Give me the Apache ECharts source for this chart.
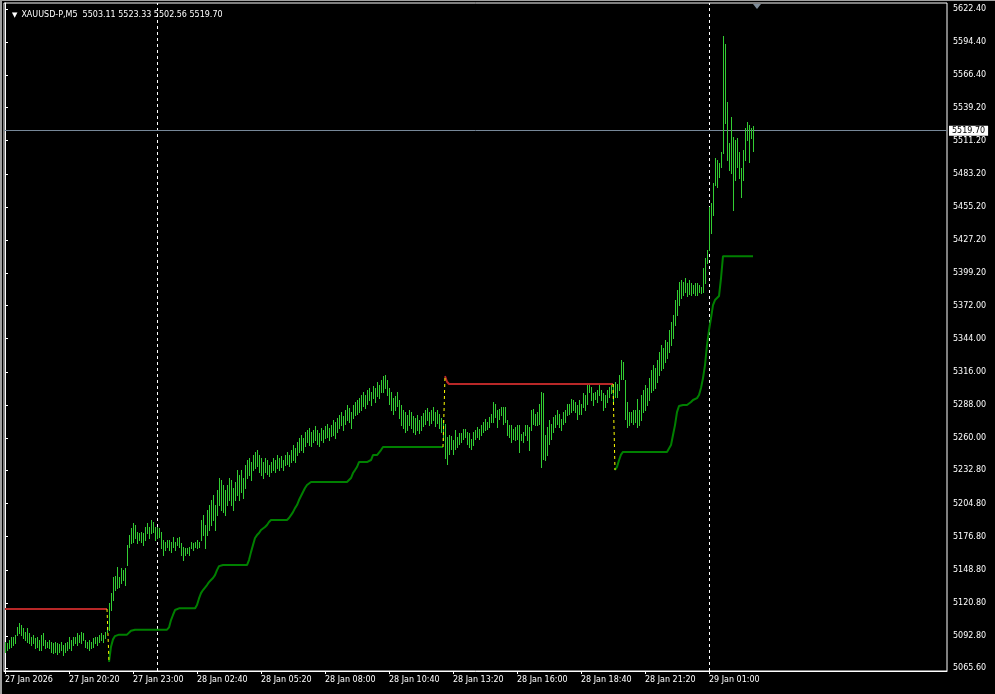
<!DOCTYPE html>
<html>
<head>
<meta charset="utf-8">
<script src="https://cdn.jsdelivr.net/npm/echarts@6/dist/echarts.min.js"></script>
<style>
html,body{margin:0;padding:0;background:#000;}
#c{width:995px;height:694px;}
</style>
</head>
<body>
<div id="c"></div>
<script>
// ---------- DATA ----------
const symbolTitle = 'XAUUSD-P,M5';
const lastOHLC = ['5503.11', '5523.33', '5502.56', '5519.70'];
const lastPrice = 5519.70;

// x tick labels, one every 32 bars (M5)
const xLabels = ['27 Jan 2026','27 Jan 20:20','27 Jan 23:00','28 Jan 02:40','28 Jan 05:20','28 Jan 08:00',
                 '28 Jan 10:40','28 Jan 13:20','28 Jan 16:00','28 Jan 18:40','28 Jan 21:20','29 Jan 01:00'];
const xLabelBars = [0,32,64,96,128,160,192,224,256,288,320,352];
const daySeparatorBars = [76, 352];

const yTicks = [5065.6,5092.8,5120.8,5148.8,5176.8,5204.8,5232.8,5260.0,5288.0,5316.0,5344.0,
                5372.0,5399.2,5427.2,5455.2,5483.2,5511.2,5539.2,5566.4,5594.4,5622.4];
const yMin = 5063.3, yMax = 5627.5;
const totalSlots = 471;

// bar highs
const highs = [
5088.0,5086.6,5089.4,5092.3,5092.3,5093.7,5100.7,5103.5,5102.1,5099.3,
5096.5,5099.3,5095.1,5092.3,5093.7,5090.8,5092.3,5089.4,5093.7,5095.1,
5089.4,5088.0,5089.4,5088.0,5086.6,5088.0,5086.6,5086.1,5088.0,5085.2,
5086.6,5088.0,5092.3,5089.4,5092.3,5092.3,5095.1,5093.7,5096.5,5095.1,
5089.4,5088.0,5089.4,5088.0,5090.8,5092.3,5092.3,5093.7,5095.1,5093.7,
5096.5,5100.7,5120.4,5128.9,5142.9,5143.5,5151.4,5142.9,5150.0,5148.6,
5150.0,5169.7,5178.1,5183.8,5188.0,5186.6,5180.9,5179.5,5180.9,5179.5,
5185.2,5188.0,5185.2,5190.8,5189.4,5185.2,5185.2,5183.8,5180.9,5173.9,
5172.5,5173.9,5173.9,5172.5,5176.7,5172.5,5175.3,5176.7,5171.1,5168.3,
5166.9,5166.9,5168.3,5172.5,5171.1,5172.5,5173.9,5172.5,5190.8,5195.0,
5186.6,5199.2,5203.5,5207.7,5211.9,5203.5,5216.1,5226.3,5224.6,5220.4,
5216.1,5220.4,5226.3,5224.6,5217.8,5222.9,5233.0,5228.8,5233.0,5226.3,
5237.3,5241.5,5243.2,5239.8,5245.7,5248.2,5249.9,5245.7,5243.2,5239.8,
5243.2,5241.5,5237.3,5239.8,5243.2,5241.5,5245.7,5243.2,5244.9,5241.5,
5245.7,5248.2,5245.7,5249.9,5254.1,5251.6,5256.7,5260.1,5262.6,5260.1,
5265.1,5266.8,5268.5,5265.1,5266.8,5270.2,5266.8,5264.3,5268.5,5266.8,
5270.2,5271.9,5268.5,5271.0,5275.3,5273.6,5276.9,5279.5,5282.0,5278.6,
5283.7,5287.9,5285.4,5282.0,5287.9,5290.5,5292.2,5293.8,5296.4,5298.9,
5296.4,5300.6,5302.3,5298.9,5304.0,5302.3,5307.4,5304.8,5309.0,5312.4,
5313.3,5309.0,5302.3,5298.9,5293.8,5295.5,5298.9,5292.2,5287.9,5283.7,
5282.0,5279.5,5283.7,5282.0,5278.6,5276.9,5279.5,5275.3,5278.6,5281.1,
5283.7,5285.4,5282.0,5283.7,5286.2,5282.0,5283.7,5280.3,5276.9,5275.3,
5272.3,5261.0,5262.4,5261.6,5258.0,5266.6,5261.0,5264.0,5264.0,5268.0,
5268.0,5265.0,5264.0,5259.6,5265.0,5266.6,5269.5,5268.0,5270.9,5273.7,
5276.5,5273.7,5277.9,5280.7,5290.6,5289.2,5283.5,5285.0,5286.4,5286.4,
5286.4,5275.0,5270.9,5270.9,5268.0,5269.5,5270.9,5270.9,5263.8,5265.2,
5270.9,5270.9,5269.5,5283.5,5285.0,5280.7,5282.1,5289.2,5299.0,5297.7,
5262.4,5269.5,5275.0,5272.3,5277.9,5279.3,5283.5,5280.7,5276.5,5282.1,
5283.5,5289.2,5289.2,5293.4,5292.0,5290.6,5287.8,5292.0,5289.2,5297.7,
5296.2,5306.1,5304.7,5303.3,5297.7,5299.0,5300.4,5304.7,5300.4,5297.7,
5296.2,5300.4,5303.3,5304.7,5306.1,5307.5,5306.1,5313.1,5325.8,5324.4,
5308.9,5290.6,5282.1,5282.1,5283.5,5283.5,5293.4,5283.5,5296.4,5300.6,
5304.8,5302.3,5310.7,5317.5,5321.7,5319.1,5325.9,5332.6,5338.6,5336.0,
5342.8,5341.1,5351.3,5358.0,5364.0,5376.6,5385.1,5391.8,5393.5,5391.8,
5395.2,5391.0,5393.5,5390.7,5389.2,5390.7,5390.7,5389.2,5387.8,5403.3,
5411.8,5418.8,5455.4,5458.2,5475.1,5496.2,5494.8,5492.0,5501.9,5599.6,
5592.8,5544.1,5508.9,5531.4,5514.6,5511.7,5513.1,5501.9,5487.8,5503.3,
5521.6,5527.2,5524.4,5521.6,5523.33
];
// bar lows
const lows = [
5079.6,5081.0,5082.4,5083.8,5085.2,5086.6,5093.7,5095.1,5093.7,5090.8,
5089.4,5088.0,5086.6,5085.2,5086.6,5082.4,5083.8,5081.0,5081.0,5085.2,
5082.4,5083.8,5082.4,5079.6,5078.2,5079.6,5077.6,5079.6,5081.0,5076.8,
5079.6,5081.0,5082.4,5081.0,5085.2,5086.6,5085.2,5088.0,5086.6,5089.4,
5083.8,5082.4,5081.0,5082.4,5083.8,5086.6,5085.2,5088.0,5089.4,5088.0,
5090.8,5095.9,5097.9,5114.8,5123.2,5131.7,5133.1,5134.5,5137.3,5140.1,
5135.9,5152.8,5168.3,5171.1,5172.5,5175.3,5171.1,5173.9,5172.5,5169.7,
5173.9,5179.5,5175.3,5179.5,5181.0,5173.9,5175.3,5176.7,5166.9,5161.2,
5165.5,5168.3,5165.5,5164.1,5168.3,5165.5,5169.7,5168.3,5161.2,5157.0,
5161.2,5162.6,5161.2,5166.9,5165.5,5168.3,5166.9,5168.3,5173.9,5178.1,
5167.2,5178.1,5182.4,5186.6,5190.8,5182.4,5195.0,5203.5,5199.2,5197.5,
5195.0,5203.5,5207.7,5203.5,5199.2,5207.7,5211.9,5207.7,5214.5,5209.4,
5217.8,5226.3,5228.8,5224.6,5233.0,5234.7,5236.4,5231.4,5228.8,5226.3,
5231.4,5229.7,5228.0,5231.4,5233.0,5231.4,5234.7,5233.0,5235.6,5233.0,
5237.3,5238.1,5236.4,5239.8,5241.5,5239.8,5245.7,5248.2,5249.9,5248.2,
5253.3,5256.7,5254.1,5253.3,5256.7,5258.4,5255.0,5253.3,5258.4,5256.7,
5260.1,5260.9,5258.4,5261.8,5262.6,5260.1,5265.1,5268.5,5271.0,5266.8,
5271.9,5275.3,5273.6,5268.5,5276.9,5279.5,5280.3,5282.0,5283.7,5287.1,
5285.4,5288.8,5292.2,5287.9,5293.8,5290.5,5295.5,5293.8,5298.9,5298.9,
5302.3,5296.4,5288.8,5283.7,5280.3,5283.7,5287.1,5277.0,5271.0,5268.5,
5265.1,5266.8,5271.0,5268.5,5265.1,5263.4,5266.8,5264.3,5266.8,5270.2,
5271.9,5275.3,5271.0,5272.7,5275.3,5270.2,5272.7,5268.5,5265.1,5258.4,
5243.0,5238.5,5247.0,5251.0,5247.0,5251.0,5252.6,5255.4,5256.8,5259.6,
5261.0,5255.0,5252.6,5251.0,5254.0,5259.6,5261.0,5259.6,5262.4,5265.2,
5266.6,5268.0,5269.5,5273.7,5273.7,5278.0,5269.5,5276.5,5279.3,5272.3,
5273.7,5262.4,5261.0,5256.8,5259.6,5258.2,5259.6,5248.3,5258.2,5256.8,
5262.4,5258.2,5249.7,5266.6,5272.3,5270.9,5270.9,5272.3,5235.7,5242.7,
5241.3,5245.5,5255.4,5259.6,5265.2,5269.5,5272.3,5269.5,5266.6,5272.3,
5273.7,5279.3,5280.7,5282.1,5283.5,5282.1,5276.5,5280.7,5280.7,5286.4,
5283.5,5289.2,5299.0,5292.0,5287.8,5293.4,5290.6,5296.2,5292.0,5283.5,
5286.4,5290.6,5294.8,5297.7,5289.2,5294.8,5294.8,5300.4,5310.3,5310.3,
5276.5,5269.5,5270.9,5273.7,5272.3,5273.7,5269.5,5270.9,5275.3,5282.0,
5283.7,5287.9,5292.2,5298.9,5300.6,5302.3,5307.4,5313.3,5317.5,5319.1,
5324.2,5327.6,5332.6,5338.6,5344.5,5355.5,5364.0,5372.4,5378.3,5380.8,
5383.4,5380.0,5381.7,5380.8,5382.2,5380.8,5380.8,5383.6,5382.8,5383.6,
5390.7,5407.6,5418.8,5432.9,5448.4,5473.7,5472.3,5480.8,5489.2,5500.5,
5525.8,5494.8,5486.4,5483.6,5452.6,5477.9,5489.2,5479.4,5463.9,5477.9,
5494.8,5511.7,5493.4,5513.1,5502.56
];

// trailing stop: sell (red) segments and buy (green) segments, each with its first bar index
const redStop1Start = 0;
const redStop1 = [
5115.7,5115.7,5115.7,5115.7,5115.7,5115.7,5115.7,5115.7,5115.7,5115.7,
5115.7,5115.7,5115.7,5115.7,5115.7,5115.7,5115.7,5115.7,5115.7,5115.7,
5115.7,5115.7,5115.7,5115.7,5115.7,5115.7,5115.7,5115.7,5115.7,5115.7,
5115.7,5115.7,5115.7,5115.7,5115.7,5115.7,5115.7,5115.7,5115.7,5115.7,
5115.7,5115.7,5115.7,5115.7,5115.7,5115.7,5115.7,5115.7,5115.7,5115.7,
5115.7,5115.7
];
const greenStop1Start = 52;
const greenStop1 = [
5071.1,5083.8,5090.0,5092.8,5094.0,5094.0,5094.0,5094.0,5094.0,5094.0,
5094.0,5097.3,5098.2,5098.2,5098.2,5098.2,5098.2,5098.2,5098.2,5098.2,
5098.2,5098.2,5098.2,5098.2,5098.2,5098.2,5098.2,5098.2,5098.2,5098.2,
5100.1,5106.3,5110.6,5114.8,5115.9,5116.2,5116.2,5116.2,5116.2,5116.2,
5116.2,5116.2,5116.2,5116.2,5119.0,5124.6,5129.1,5131.7,5133.3,5135.9,
5138.4,5140.1,5141.8,5144.3,5148.5,5151.9,5152.8,5152.8,5152.8,5152.8,
5152.8,5152.8,5152.8,5152.8,5152.8,5152.8,5152.8,5152.8,5152.8,5152.8,
5157.0,5163.7,5169.7,5175.6,5178.1,5179.8,5182.4,5184.0,5184.9,5186.6,
5189.1,5190.8,5190.8,5190.8,5190.8,5190.8,5190.8,5190.8,5190.8,5190.8,
5192.5,5195.0,5197.5,5200.9,5203.5,5207.7,5211.1,5214.5,5217.8,5220.4,
5221.2,5222.9,5222.9,5222.9,5222.9,5222.9,5222.9,5222.9,5222.9,5222.9,
5222.9,5222.9,5222.9,5222.9,5222.9,5222.9,5222.9,5222.9,5222.9,5222.9,
5222.9,5226.3,5230.5,5233.0,5235.6,5239.8,5239.8,5239.8,5239.8,5239.8,
5239.8,5241.5,5245.7,5245.7,5245.7,5245.7,5249.9,5252.5,5252.5,5252.5,
5252.5,5252.5,5252.5,5252.5,5252.5,5252.5,5252.5,5252.5,5252.5,5252.5,
5252.5,5252.5,5252.5,5252.5,5252.5,5252.5,5252.5,5252.5,5252.5,5252.5,
5252.5,5252.5,5252.5,5252.5,5252.5,5252.5,5252.5,5252.5
];
const redStop2Start = 220;
const redStop2 = [
5312.3,5307.6,5305.7,5305.7,5305.7,5305.7,5305.7,5305.7,5305.7,5305.7,
5305.7,5305.7,5305.7,5305.7,5305.7,5305.7,5305.7,5305.7,5305.7,5305.7,
5305.7,5305.7,5305.7,5305.7,5305.7,5305.7,5305.7,5305.7,5305.7,5305.7,
5305.7,5305.7,5305.7,5305.7,5305.7,5305.7,5305.7,5305.7,5305.7,5305.7,
5305.7,5305.7,5305.7,5305.7,5305.7,5305.7,5305.7,5305.7,5305.7,5305.7,
5305.7,5305.7,5305.7,5305.7,5305.7,5305.7,5305.7,5305.7,5305.7,5305.7,
5305.7,5305.7,5305.7,5305.7,5305.7,5305.7,5305.7,5305.7,5305.7,5305.7,
5305.7,5305.7,5305.7,5305.7,5305.7,5305.7,5305.7,5305.7,5305.7,5305.7,
5305.7,5305.7,5305.7,5305.7,5305.7
];
const greenStop2Start = 305;
const greenStop2 = [
5233.0,5235.7,5241.3,5246.0,5248.3,5248.3,5248.3,5248.3,5248.3,5248.3,
5248.3,5248.3,5248.3,5248.3,5248.3,5248.3,5248.3,5248.3,5248.3,5248.3,
5248.3,5248.3,5248.3,5248.3,5248.3,5248.3,5248.3,5248.3,5254.1,5262.6,
5271.0,5282.0,5287.1,5287.9,5287.9,5287.9,5287.9,5287.9,5290.5,5292.2,
5292.2,5293.8,5296.4,5302.3,5310.7,5321.7,5338.6,5351.3,5361.4,5372.4,
5376.6,5378.3,5380.0,5395.0,5413.7,5413.7,5413.7,5413.7,5413.7,5413.7,
5413.7,5413.7,5413.7,5413.7,5413.7,5413.7,5413.7,5413.7,5413.7,5413.7
];

// ---------- CHART ----------
const FONT = 'DejaVu Sans';
const chart = echarts.init(document.getElementById('c'));

const toPairs = (start, vals) => vals.map((v, k) => [start + k, v]);
const red1 = toPairs(redStop1Start, redStop1);
const green1 = toPairs(greenStop1Start, greenStop1);
const red2 = toPairs(redStop2Start, redStop2);
const green2 = toPairs(greenStop2Start, greenStop2);
const switches = [
  [red1[red1.length - 1], green1[0]],
  [green1[green1.length - 1], red2[0]],
  [red2[red2.length - 1], green2[0]]
];

const barData = highs.map((h, i) => [i, h, lows[i]]);

const RED = '#b82828', GREEN = '#008000';
const stopLine = (data, color, extra) => Object.assign({
  type: 'line', data, symbol: 'none', silent: true, z: 3,
  lineStyle: { color, width: 2 }
}, extra || {});

const option = {
  backgroundColor: '#000',
  animation: false,
  title: {
    left: 7, top: 6,
    text: '{t|▼}' + symbolTitle + '  ' + lastOHLC.join(' '),
    textStyle: {
      color: '#fff', fontFamily: FONT, fontSize: 8, fontWeight: 'normal',
      rich: { t: { fontSize: 7, color: '#fff', padding: [0, 4, 0, 0] } }
    }
  },
  graphic: [
    { type: 'rect', left: 0, top: 0, shape: { width: 2, height: 694 }, style: { fill: '#a0a0a0' }, silent: true },
    { type: 'rect', left: 0, top: 0, shape: { width: 995, height: 1 }, style: { fill: '#a0a0a0' }, silent: true }
  ],
  grid: { left: 4, top: 3, right: 48, bottom: 23, show: true, borderColor: '#fff', borderWidth: 1, backgroundColor: '#000' },
  xAxis: {
    type: 'value', min: -0.5, max: totalSlots,
    splitLine: { show: false },
    axisLine: { show: true, lineStyle: { color: '#fff', width: 1 } },
    axisTick: { show: true, customValues: xLabelBars, length: 3, lineStyle: { color: '#fff' } },
    axisLabel: {
      customValues: xLabelBars,
      formatter: v => xLabels[xLabelBars.indexOf(Math.round(v))] || '',
      color: '#fff', fontFamily: FONT, fontSize: 8, align: 'left', margin: 5
    }
  },
  yAxis: {
    type: 'value', position: 'right', min: yMin, max: yMax, scale: true,
    splitLine: { show: false },
    axisLine: { show: true, lineStyle: { color: '#fff', width: 1 } },
    axisTick: { show: true, customValues: yTicks, length: 3, lineStyle: { color: '#fff' } },
    axisLabel: {
      customValues: yTicks,
      formatter: v => Number(v).toFixed(2),
      color: '#fff', fontFamily: FONT, fontSize: 8, margin: 6
    }
  },
  series: [
    {
      type: 'custom', name: 'bars', clip: true, z: 2,
      data: barData,
      encode: { x: 0, y: [1, 2] },
      renderItem: (params, api) => {
        const i = api.value(0);
        const top = api.coord([i, api.value(1)]);
        const bot = api.coord([i, api.value(2)]);
        const x = Math.round(top[0]) + 0.5;
        return {
          type: 'line',
          shape: { x1: x, y1: Math.round(top[1]), x2: x, y2: Math.round(bot[1]) + 1 },
          style: { stroke: '#32cd32', lineWidth: 1 }
        };
      }
    },
    stopLine(red1, RED, {
      markLine: {
        silent: true, symbol: 'none', z: 1,
        label: { show: false },
        lineStyle: { color: '#ffffff', width: 1, type: [3, 3] },
        data: daySeparatorBars.map(b => ({ xAxis: b }))
      }
    }),
    stopLine(green1, GREEN),
    stopLine(red2, RED),
    stopLine(green2, GREEN, {
      markLine: {
        silent: true, symbol: 'none', z: 1,
        lineStyle: { color: '#778899', width: 1, type: 'solid' },
        label: {
          show: true, position: 'end', distance: 2,
          formatter: lastPrice.toFixed(2),
          backgroundColor: '#fff', color: '#000', fontFamily: FONT, fontSize: 8,
          padding: [1, 3, 0, 3], lineHeight: 9
        },
        data: [{ yAxis: lastPrice }]
      },
      markPoint: {
        silent: true, symbol: 'triangle', symbolRotate: 180, symbolSize: [8, 5],
        symbolOffset: [0, 3.5], itemStyle: { color: '#7f8c99' }, label: { show: false },
        data: [{ coord: [highs.length + 1, yMax] }]
      }
    })
  ].concat(switches.map(s => ({
    type: 'line', data: s, symbol: 'none', silent: true, z: 4,
    lineStyle: { color: '#ffff00', width: 1, type: [3, 3] }
  })))
};
chart.setOption(option);
</script>
</body>
</html>
